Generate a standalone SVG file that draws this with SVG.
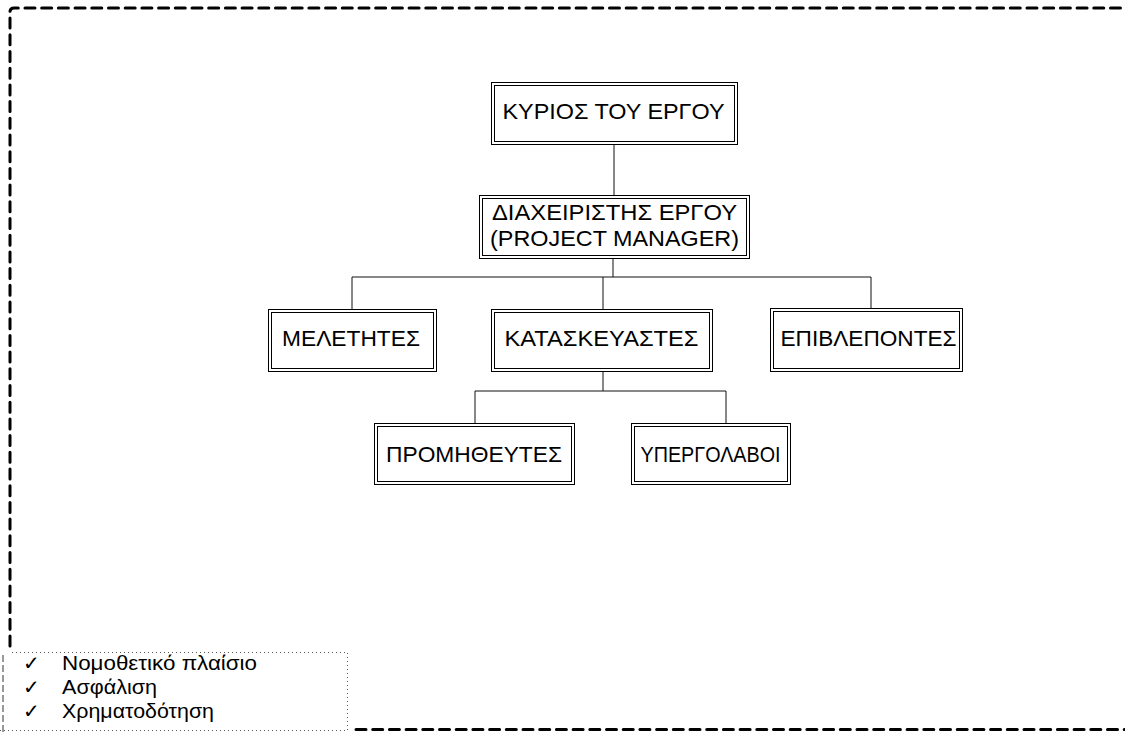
<svg xmlns="http://www.w3.org/2000/svg" width="1125" height="732" viewBox="0 0 1125 732">
  <style>
    .frame { fill: none; stroke: #000; stroke-width: 3; stroke-dasharray: 10 6.7; stroke-linecap: round; }
    .box-out { fill: #fff; stroke: #000; stroke-width: 1; }
    .box-in { fill: none; stroke: #000; stroke-width: 1; }
    .lbl { font-family: "Liberation Sans", Arial, sans-serif; font-size: 22px; fill: #000; text-anchor: middle; }
    .wire { fill: none; stroke: #111; stroke-width: 1; }
    .legend { fill: none; stroke: #555; stroke-width: 1; stroke-dasharray: 1 3; }
    .ltxt { font-family: "Liberation Sans", Arial, sans-serif; font-size: 20px; fill: #000; }
  </style>

  <rect width="1125" height="732" fill="#fff"/>

  <!-- outer dashed frame -->
  <g id="frame">
    <path class="frame" d="M10 646 V12 Q10 8 14 8 H1125"/>
    <path class="frame" d="M356 729.5 H1125"/>
    <path d="M3 655 V732" stroke="#333" stroke-width="1" stroke-dasharray="7 3" fill="none"/>
  </g>

  <!-- connectors -->
  <g id="connectors">
    <path class="wire" d="M614 144 V195"/>
    <path class="wire" d="M613 258 V277 M352 277 H871 M352 277 V309 M603 277 V309 M871 277 V308"/>
    <path class="wire" d="M603 371 V391 M475 391 H726 M475 391 V423 M726 391 V423"/>
  </g>

  <g id="node-owner">
    <rect class="box-out" x="491.5" y="82.5" width="246" height="62"/>
    <rect class="box-in" x="494.5" y="85.5" width="240" height="56"/>
    <text class="lbl" x="613.5" y="119" textLength="222" lengthAdjust="spacingAndGlyphs">ΚΥΡΙΟΣ ΤΟΥ ΕΡΓΟΥ</text>
  </g>

  <g id="node-manager">
    <rect class="box-out" x="479.5" y="195.5" width="270" height="63"/>
    <rect class="box-in" x="482.5" y="198.5" width="264" height="57"/>
    <text class="lbl" x="614.5" y="220" textLength="245" lengthAdjust="spacingAndGlyphs">ΔΙΑΧΕΙΡΙΣΤΗΣ ΕΡΓΟΥ</text>
    <text class="lbl" x="614.5" y="246" textLength="249" lengthAdjust="spacingAndGlyphs">(PROJECT MANAGER)</text>
  </g>

  <g id="node-designers">
    <rect class="box-out" x="268.5" y="309.5" width="168" height="62"/>
    <rect class="box-in" x="271.5" y="312.5" width="162" height="56"/>
    <text class="lbl" x="351" y="346" textLength="138" lengthAdjust="spacingAndGlyphs">ΜΕΛΕΤΗΤΕΣ</text>
  </g>

  <g id="node-contractors">
    <rect class="box-out" x="491.5" y="309.5" width="221" height="62"/>
    <rect class="box-in" x="494.5" y="312.5" width="215" height="56"/>
    <text class="lbl" x="601.5" y="346" textLength="194" lengthAdjust="spacingAndGlyphs">ΚΑΤΑΣΚΕΥΑΣΤΕΣ</text>
  </g>

  <g id="node-supervisors">
    <rect class="box-out" x="770.5" y="308.5" width="192" height="63"/>
    <rect class="box-in" x="773.5" y="311.5" width="186" height="57"/>
    <text class="lbl" x="868.5" y="346" textLength="176" lengthAdjust="spacingAndGlyphs">ΕΠΙΒΛΕΠΟΝΤΕΣ</text>
  </g>

  <g id="node-suppliers">
    <rect class="box-out" x="374.5" y="423.5" width="200" height="61"/>
    <rect class="box-in" x="377.5" y="426.5" width="194" height="55"/>
    <text class="lbl" x="474" y="462" textLength="176" lengthAdjust="spacingAndGlyphs">ΠΡΟΜΗΘΕΥΤΕΣ</text>
  </g>

  <g id="node-subcontractors">
    <rect class="box-out" x="631.5" y="423.5" width="159" height="61"/>
    <rect class="box-in" x="634.5" y="426.5" width="153" height="55"/>
    <text class="lbl" x="710.5" y="462" textLength="140" lengthAdjust="spacingAndGlyphs">ΥΠΕΡΓΟΛΑΒΟΙ</text>
  </g>

  <!-- legend checklist -->
  <g id="legend">
    <path class="legend" d="M12 652.5 H347.5 V730.5 H0"/>
    <text class="ltxt" x="23" y="670">✓</text>
    <text class="ltxt" x="62" y="670" textLength="195" lengthAdjust="spacingAndGlyphs">Νομοθετικό πλαίσιο</text>
    <text class="ltxt" x="23" y="694">✓</text>
    <text class="ltxt" x="62" y="694" textLength="95" lengthAdjust="spacingAndGlyphs">Ασφάλιση</text>
    <text class="ltxt" x="23" y="718">✓</text>
    <text class="ltxt" x="62" y="718" textLength="152" lengthAdjust="spacingAndGlyphs">Χρηματοδότηση</text>
  </g>
</svg>
